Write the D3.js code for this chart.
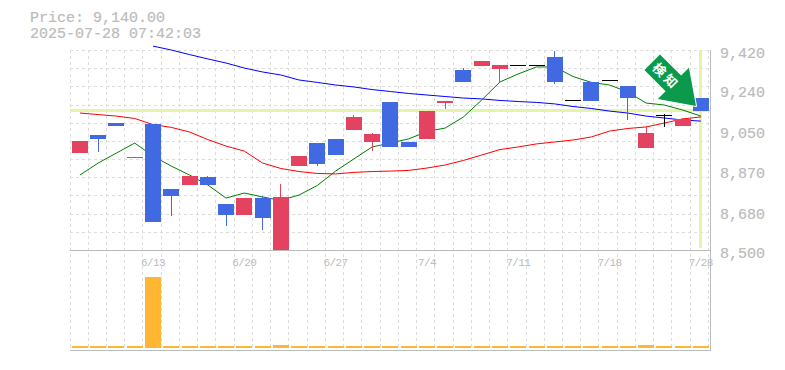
<!DOCTYPE html>
<html>
<head>
<meta charset="utf-8">
<script src="https://cdn.jsdelivr.net/npm/d3@7"></script>
<style>
  html, body { margin: 0; padding: 0; background: #fff; }
  svg { display: block; }
  text { font-family: "Liberation Mono", monospace; fill: #bbb; }
</style>
</head>
<body>
<div id="chart"></div>
<script>
// data
const dates = ["6/9","6/10","6/11","6/12","6/13","6/16","6/17","6/18","6/19","6/20","6/23","6/24","6/25","6/26","6/27","6/30","7/1","7/2","7/3","7/4","7/7","7/8","7/9","7/10","7/11","7/14","7/15","7/16","7/17","7/18","7/22","7/23","7/24","7/25","7/28"];
const tickDates = ["6/13","6/20","6/27","7/4","7/11","7/18","7/28"];
const priceTicks = [8500, 8680, 8870, 9050, 9240, 9420];
const opens = [8946,9029,9084,8923,9080,8781,8799,8836,8712,8661,8739,8495,8886,8992,9011,9052,8997,9181,8997,9011,9176,9328,9346,9333,9351,9351,9388,9190,9273,9282,9254,8969,9121,9070,9199];
const closes = [9001,9011,9070,8928,8629,8748,8840,8799,8661,8739,8647,8744,8932,8896,8937,9112,9034,8974,8974,9139,9185,9273,9369,9351,9351,9351,9273,9190,9185,9282,9199,9038,9121,9103,9140];
const highs = [9001,9029,9084,8928,9080,8781,8840,8840,8712,8739,8748,8804,8932,8992,9011,9121,9038,9181,8997,9139,9185,9337,9369,9351,9351,9351,9415,9190,9273,9282,9254,9066,9126,9107,9199];
const lows = [8946,8951,9070,8923,8629,8656,8799,8799,8610,8661,8592,8495,8886,8886,8937,9052,8955,8974,8974,9011,9149,9273,9346,9273,9351,9351,9264,9190,9185,9282,9098,8969,9066,9070,9140];
const maShort = [8845,8900,8946,8992,8932,8886,8845,8799,8739,8762,8744,8728,8753,8797,8863,8919,8974,8992,9011,9045,9061,9112,9190,9273,9310,9342,9342,9298,9271,9259,9227,9176,9167,9144,9116];
const maMid = [9130,9123,9116,9105,9077,9064,9043,9008,8978,8955,8900,8875,8861,8852,8850,8857,8861,8863,8866,8877,8891,8912,8937,8962,8974,8988,8997,9006,9020,9047,9059,9066,9084,9103,9112];
const maLong = [null,null,null,null,9438,9420,9399,9379,9360,9337,9319,9305,9282,9271,9259,9250,9238,9229,9220,9213,9206,9199,9195,9188,9183,9179,9172,9160,9151,9139,9130,9116,9107,9098,9093];
const volume = [20,20,20,20,710,20,20,20,20,20,20,30,20,20,20,20,20,20,20,20,20,20,20,20,20,20,20,20,20,20,20,30,20,20,20];
const currentPrice = 9140;

const width = 785, height = 370;
const plotLeft = 70, plotRight = 710, plotTop = 50, plotMid = 250, volBottom = 348, plotBottom = 350;

const svg = d3.select("#chart").append("svg")
  .attr("width", width)
  .attr("height", height);

const x = d3.scaleBand().domain(dates).range([70.8, plotRight]);
const xGrid = d3.scaleBand().domain(dates).range([plotLeft, 708.4]);
const y = d3.scaleLinear().domain([8500, 9420]).range([plotMid, plotTop]);
const yVol = d3.scaleLinear().domain([0, 710]).range([volBottom, 277]);
const cx = d => x(d) + x.bandwidth() / 2;

svg.append("defs").append("clipPath").attr("id", "plot")
  .append("rect").attr("x", plotLeft).attr("y", 0).attr("width", plotRight - plotLeft).attr("height", plotMid);

// grid
const grid = svg.append("g")
  .attr("stroke", "#ddd")
  .attr("stroke-width", 1)
  .attr("stroke-dasharray", "3,3");
grid.selectAll(".v")
  .data(dates.concat("end"))
  .join("line")
  .attr("x1", d => d === "end" ? 708.5 : Math.floor(xGrid(d)) + 0.5)
  .attr("x2", d => d === "end" ? 708.5 : Math.floor(xGrid(d)) + 0.5)
  .attr("y1", plotTop)
  .attr("y2", plotBottom);
grid.selectAll(".h")
  .data(d3.range(1, 12).map(k => 8500 + k * 920 / 11))
  .join("line")
  .attr("x1", plotLeft)
  .attr("x2", plotRight)
  .attr("y1", d => Math.round(y(d)) + 0.5)
  .attr("y2", d => Math.round(y(d)) + 0.5);

// frame
const frame = svg.append("g").attr("stroke", "#bbb").attr("stroke-width", 1);
frame.append("line").attr("x1", plotLeft).attr("x2", plotRight + 1).attr("y1", plotMid + 0.5).attr("y2", plotMid + 0.5);
frame.append("line").attr("x1", plotLeft).attr("x2", plotRight + 1).attr("y1", plotBottom + 0.5).attr("y2", plotBottom + 0.5);
frame.append("line").attr("x1", plotRight + 0.5).attr("x2", plotRight + 0.5).attr("y1", plotTop).attr("y2", plotBottom);

// current price markers
svg.append("line")
  .attr("x1", plotLeft).attr("x2", plotRight)
  .attr("y1", Math.floor(y(currentPrice)) + 0.5).attr("y2", Math.floor(y(currentPrice)) + 0.5)
  .attr("stroke", "#e4f5a9").attr("stroke-width", 3);
svg.append("line")
  .attr("x1", Math.floor(cx(dates[34])) + 0.5).attr("x2", Math.floor(cx(dates[34])) + 0.5)
  .attr("y1", plotTop).attr("y2", plotMid - 2)
  .attr("stroke", "#e4f5a9").attr("stroke-width", 3);

// axis labels
svg.selectAll(".price")
  .data(priceTicks)
  .join("text")
  .attr("x", 720)
  .attr("y", d => y(d) + 8)
  .style("font-size", "15px")
  .style("stroke", "#bbb")
  .style("stroke-width", 0.2)
  .text(d3.format(","));
svg.selectAll(".date")
  .data(tickDates)
  .join("text")
  .attr("x", d => cx(d))
  .attr("y", 266)
  .attr("text-anchor", "middle")
  .style("font-size", "11px")
  .style("letter-spacing", "-0.6px")
  .text(d => d);
svg.append("text").attr("x", 30).attr("y", 22).style("font-size", "15px").style("stroke", "#bbb").style("stroke-width", 0.2).text("Price: 9,140.00");
svg.append("text").attr("x", 30).attr("y", 38).style("font-size", "15px").style("stroke", "#bbb").style("stroke-width", 0.2).text("2025-07-28 07:42:03");

// moving averages go under the candles
const line = d3.line()
  .defined(d => d[1] !== null)
  .x(d => cx(d[0]))
  .y(d => y(d[1]));
[[maLong, "#0000ff"], [maMid, "#ff0000"], [maShort, "#008000"]].forEach(([vals, col]) => {
  svg.append("path")
    .attr("d", line(dates.map((d, i) => [d, vals[i]])))
    .attr("fill", "none")
    .attr("stroke", col)
    .attr("stroke-width", 1);
});

// candles
const candleColor = i => opens[i] === closes[i] ? "#000" : closes[i] > opens[i] ? "#e34360" : "#4169e1";
const candles = svg.append("g").attr("clip-path", "url(#plot)");
candles.selectAll(".wick")
  .data(dates)
  .join("line")
  .attr("x1", d => Math.floor(cx(d)) + 0.5)
  .attr("x2", d => Math.floor(cx(d)) + 0.5)
  .attr("y1", (d, i) => y(highs[i]))
  .attr("y2", (d, i) => y(lows[i]))
  .attr("stroke", (d, i) => candleColor(i));
candles.selectAll(".body")
  .data(dates)
  .join("rect")
  .attr("x", d => Math.round(cx(d) - 8))
  .attr("width", 16)
  .attr("y", (d, i) => Math.round(y(Math.max(opens[i], closes[i]))))
  .attr("height", (d, i) => Math.max(1, Math.round(Math.abs(y(opens[i]) - y(closes[i])))))
  .attr("fill", (d, i) => candleColor(i));

// volume
svg.selectAll(".vol")
  .data(dates)
  .join("rect")
  .attr("x", d => Math.round(cx(d) - 8))
  .attr("width", 16)
  .attr("y", (d, i) => yVol(volume[i]))
  .attr("height", (d, i) => volBottom - yVol(volume[i]))
  .attr("fill", "#ffb733");

// arrow badge, drawn pointing right then turned 45 degrees
const badge = svg.append("g").attr("transform", "translate(696,106) rotate(45)");
badge.append("path")
  .attr("d", "M0,0 L-32,-22 L-32,-11 L-62,-11 L-62,11 L-32,11 L-32,22 Z")
  .attr("fill", "#0b9a4c")
  .attr("stroke", "#fff")
  .attr("stroke-width", 2)
  .attr("stroke-linejoin", "round")
  .attr("paint-order", "stroke");
badge.append("text")
  .attr("x", -42)
  .attr("y", 5)
  .attr("text-anchor", "middle")
  .style("font-family", "'Noto Sans CJK JP'")
  .style("font-weight", "700")
  .style("font-size", "13px")
  .style("letter-spacing", "3px")
  .style("fill", "#fff")
  .text("検知");
</script>
</body>
</html>
